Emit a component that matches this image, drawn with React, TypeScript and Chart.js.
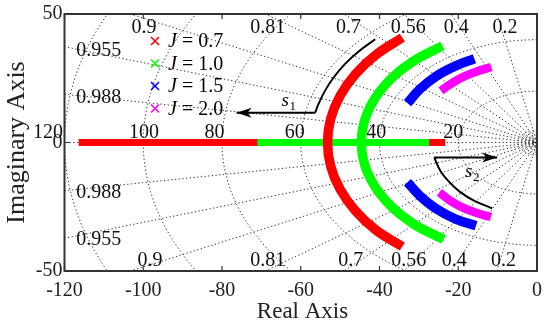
import React, { useEffect, useRef } from "react";
import { Chart, registerables } from "chart.js";

Chart.register(...registerables);

// ---------- axes ----------
const xTickValues = [-120, -100, -80, -60, -40, -20, 0];
const yTickValues = [-50, 0, 50];

// ---------- s-plane grid ----------
const wnValues = [20, 40, 60, 80, 100, 120];
const wnNearOrigin = [1.3, 2.0, 2.8, 3.8, 4.8];
const zetaValues = [0.2, 0.4, 0.56, 0.7, 0.81, 0.9, 0.955, 0.988, 1];

const zetaTopText = ["0.9", "0.81", "0.7", "0.56", "0.4", "0.2"];
const zetaTopX = [-99.8, -68.4, -47.9, -32.7, -20.5, -8.1];
const zetaTopY = 44.6;
const zetaBottomX = [-98.3, -68.4, -47.3, -32.6, -21.0, -8.5];
const zetaBottomY = -46.1;
const zetaLeftText = ["0.955", "0.988", "0.988", "0.955"];
const zetaLeftX = -111.3;
const zetaLeftY = [35.7, 17.4, -19.4, -38.0];
const wnText = ["120", "100", "80", "60", "40", "20"];
const wnTextX = [-124.2, -99.8, -81.9, -61.5, -40.8, -21.3];
const wnTextY = 3.9;

// ---------- root locus branches ----------
const jLabels = ["0.7", "1.0", "1.5", "2.0"];
const jColors = ["#ff0000", "#00ff00", "#0000ff", "#ff00ff"];

const redReal = [[-116.4, 0], [-23.3, 0]];
const greenReal = [[-71.0, 0], [-27.4, 0]];
const redArc = [
  [-34.2, 40.8], [-40.8, 34.2], [-46.1, 26.6], [-50.0, 18.2], [-52.4, 9.2], [-53.2, 0],
  [-52.4, -9.2], [-50.0, -18.2], [-46.1, -26.6], [-40.8, -34.2], [-34.2, -40.5],
];
const greenArc = [
  [-24.0, 37.6], [-31.5, 31.5], [-38.6, 22.3], [-43.1, 11.5], [-44.6, 0],
  [-43.1, -11.5], [-38.6, -22.3], [-31.5, -31.5], [-23.7, -37.7],
];
const blueArcUp = [[-32.9, 15.3], [-29.7, 20.8], [-25.7, 25.7], [-20.8, 29.7], [-15.9, 32.6]];
const blueArcDown = [[-32.9, -15.5], [-29.7, -20.8], [-25.7, -25.7], [-20.8, -29.7], [-15.5, -32.4]];
const magentaArcUp = [[-24.4, 20.1], [-21.6, 23.1], [-18.6, 25.6], [-15.3, 27.6], [-11.6, 29.4]];
const magentaArcDown = [[-24.8, -19.4], [-21.8, -22.9], [-18.7, -25.4], [-15.3, -27.4], [-11.7, -29.0]];

// ---------- annotations ----------
const s1Arc = [
  [-41.1, 40.2], [-45.3, 35.4], [-48.8, 30.5], [-51.7, 25.2], [-54.0, 19.7],
  [-55.8, 13.9], [-56.3, 11.6],
];
const s1Arrow = [[-56.3, 11.6], [-76.3, 11.6]];
const s2Arc = [
  [-11.4, -25.6], [-15.9, -22.7], [-19.4, -19.4], [-22.2, -15.5], [-24.4, -11.4],
  [-26.1, -5.8],
];
const s2Arrow = [[-26.1, -5.8], [-10.1, -5.8]];
const s1LabelPos = [-63.1, 16.3];
const s2LabelPos = [-16.5, -11.6];

const SERIF = '"Liberation Serif", "DejaVu Serif", serif';

const pts = (arr: number[][]) => arr.map(([x, y]) => ({ x, y }));

const line = (data: number[][], color: string, width: number, tag: string, tension = 0) => ({
  label: tag,
  data: pts(data),
  borderColor: color,
  backgroundColor: color,
  borderWidth: width,
  showLine: true,
  pointRadius: 0,
  pointHoverRadius: 0,
  tension,
  fill: false,
  borderCapStyle: "butt",
  borderJoinStyle: "round",
});

const drawArrowHead = (ctx: CanvasRenderingContext2D, x0: number, y0: number, x1: number, y1: number) => {
  const ang = Math.atan2(y1 - y0, x1 - x0);
  const L = 15, W = 5, N = 4;
  ctx.save();
  ctx.translate(x1, y1);
  ctx.rotate(ang);
  ctx.beginPath();
  ctx.moveTo(0, 0);
  ctx.lineTo(-L, -W);
  ctx.lineTo(-L + N, 0);
  ctx.lineTo(-L, W);
  ctx.closePath();
  ctx.fillStyle = "#000";
  ctx.fill();
  ctx.restore();
};

const rlPlugin = {
  id: "rlocusDecor",
  beforeDatasetsDraw(chart: any) {
    const { ctx, chartArea: a, scales } = chart;
    const xs = scales.x, ys = scales.y;
    const px = (v: number) => xs.getPixelForValue(v);
    const py = (v: number) => ys.getPixelForValue(v);
    ctx.save();
    ctx.beginPath();
    ctx.rect(a.left, a.top, a.right - a.left, a.bottom - a.top);
    ctx.clip();
    ctx.strokeStyle = "#333";
    ctx.lineWidth = 1;
    ctx.setLineDash([1.3, 2.4]);
    for (const wn of [...wnValues, ...wnNearOrigin]) {
      ctx.beginPath();
      for (let i = 0; i <= 180; i++) {
        const th = Math.PI / 2 + (Math.PI * i) / 180;
        const X = px(wn * Math.cos(th));
        const Y = py(wn * Math.sin(th));
        if (i === 0) ctx.moveTo(X, Y);
        else ctx.lineTo(X, Y);
      }
      ctx.stroke();
    }
    const R = 500;
    for (const z of zetaValues) {
      const s = Math.sqrt(Math.max(0, 1 - z * z));
      const signs = s === 0 ? [1] : [1, -1];
      for (const sg of signs) {
        ctx.beginPath();
        ctx.moveTo(px(0), py(0));
        ctx.lineTo(px(-R * z), py(sg * R * s));
        ctx.stroke();
      }
    }
    ctx.restore();

    // grid labels
    ctx.save();
    ctx.fillStyle = "#111";
    ctx.font = `20px ${SERIF}`;
    ctx.textAlign = "center";
    ctx.textBaseline = "middle";
    zetaTopText.forEach((t, i) => {
      ctx.fillText(t, px(zetaTopX[i]), py(zetaTopY));
      ctx.fillText(t, px(zetaBottomX[i]), py(zetaBottomY));
    });
    zetaLeftText.forEach((t, i) => ctx.fillText(t, px(zetaLeftX), py(zetaLeftY[i])));
    wnText.forEach((t, i) => ctx.fillText(t, px(wnTextX[i]), py(wnTextY)));
    ctx.restore();
  },
  afterDatasetsDraw(chart: any) {
    const { ctx, chartArea: a, scales } = chart;
    const xs = scales.x, ys = scales.y;
    const px = (v: number) => xs.getPixelForValue(v);
    const py = (v: number) => ys.getPixelForValue(v);

    // arrow heads
    for (const p of [s1Arrow, s2Arrow]) {
      const n = p.length;
      drawArrowHead(ctx, px(p[n - 2][0]), py(p[n - 2][1]), px(p[n - 1][0]), py(p[n - 1][1]));
    }

    // s labels
    ctx.save();
    ctx.fillStyle = "#000";
    ctx.textBaseline = "alphabetic";
    const sLab = (pos: number[], sub: string) => {
      const X = px(pos[0]) - 7, Y = py(pos[1]) + 5;
      ctx.font = `italic 19px ${SERIF}`;
      ctx.textAlign = "left";
      ctx.fillText("s", X, Y);
      const w = ctx.measureText("s").width;
      ctx.font = `13px ${SERIF}`;
      ctx.fillText(sub, X + w + 0.5, Y + 4);
    };
    sLab(s1LabelPos, "1");
    sLab(s2LabelPos, "2");
    ctx.restore();

    // legend
    ctx.save();
    const mx = a.left + 90.5;
    jLabels.forEach((lab, i) => {
      const my = a.top + 27 + i * 22.5;
      ctx.strokeStyle = jColors[i];
      ctx.lineWidth = 1.6;
      ctx.beginPath();
      ctx.moveTo(mx - 4, my - 4); ctx.lineTo(mx + 4, my + 4);
      ctx.moveTo(mx + 4, my - 4); ctx.lineTo(mx - 4, my + 4);
      ctx.stroke();
      ctx.fillStyle = "#000";
      ctx.textBaseline = "middle";
      ctx.textAlign = "left";
      ctx.font = `italic 20px ${SERIF}`;
      const tx = mx + 13;
      ctx.fillText("J", tx, my + 1);
      const wj = ctx.measureText("J").width;
      ctx.font = `20px ${SERIF}`;
      ctx.fillText(" = " + lab, tx + wj, my + 1);
    });
    ctx.restore();
  },
  afterDraw(chart: any) {
    const { ctx, chartArea: a, scales } = chart;
    const xs = scales.x, ys = scales.y;
    ctx.save();
    ctx.strokeStyle = "#333";
    ctx.lineWidth = 2;
    ctx.strokeRect(a.left, a.top, a.right - a.left, a.bottom - a.top);
    ctx.lineWidth = 1.2;
    ctx.beginPath();
    for (const v of xTickValues) {
      const X = xs.getPixelForValue(v);
      ctx.moveTo(X, a.top); ctx.lineTo(X, a.top + 5);
      ctx.moveTo(X, a.bottom); ctx.lineTo(X, a.bottom - 5);
    }
    for (const v of yTickValues) {
      const Y = ys.getPixelForValue(v);
      ctx.moveTo(a.left, Y); ctx.lineTo(a.left + 5, Y);
      ctx.moveTo(a.right, Y); ctx.lineTo(a.right - 5, Y);
    }
    ctx.stroke();

    // axis titles
    ctx.fillStyle = "#222";
    ctx.textAlign = "center";
    ctx.textBaseline = "middle";
    ctx.font = `23px ${SERIF}`;
    ctx.fillText("Real Axis", 302.5, 312);
    ctx.translate(17, 142.5);
    ctx.rotate(-Math.PI / 2);
    ctx.font = `26px ${SERIF}`;
    ctx.fillText("Imaginary Axis", 0, 0);
    ctx.restore();
  },
};

export default function App() {
  const ref = useRef<HTMLCanvasElement | null>(null);
  useEffect(() => {
    document.body.style.margin = "0";
    if (!ref.current) return;
    // listed bottom-most first; Chart.js draws lower `order` on top
    const stack: any[] = [
      line(redReal, jColors[0], 7, "J = " + jLabels[0]),
      line(greenReal, jColors[1], 7, "J = " + jLabels[1]),
      line(redArc, jColors[0], 9.5, "J = " + jLabels[0], 0.4),
      line(greenArc, jColors[1], 9.5, "J = " + jLabels[1], 0.4),
      line(blueArcUp, jColors[2], 9.5, "J = " + jLabels[2], 0.4),
      line(blueArcDown, jColors[2], 9.5, "J = " + jLabels[2], 0.4),
      line(magentaArcUp, jColors[3], 8.5, "J = " + jLabels[3], 0.4),
      line(magentaArcDown, jColors[3], 8.5, "J = " + jLabels[3], 0.4),
      line(s1Arc, "#000", 2, "s1", 0.4),
      line(s1Arrow, "#000", 2, "s1"),
      line(s2Arc, "#000", 2, "s2", 0.4),
      line(s2Arrow, "#000", 2, "s2"),
    ];
    const datasets = stack.map((d, i) => ({ ...d, order: stack.length - i }));
    const chart = new Chart(ref.current, {
      type: "scatter",
      data: { datasets },
      options: {
        animation: false,
        responsive: false,
        maintainAspectRatio: false,
        layout: { padding: { top: 13, right: 12, left: 0, bottom: 0 } },
        plugins: { legend: { display: false }, tooltip: { enabled: false } },
        scales: {
          x: {
            type: "linear",
            min: -120,
            max: 0,
            afterBuildTicks: (s: any) => { s.ticks = xTickValues.map((v) => ({ value: v })); },
            afterFit: (s: any) => { s.height = 56; },
            grid: { display: false, drawTicks: false },
            border: { display: false },
            ticks: { color: "#222", font: { family: SERIF, size: 20 }, padding: 8, maxRotation: 0 },
          },
          y: {
            type: "linear",
            min: -50,
            max: 50,
            afterBuildTicks: (s: any) => { s.ticks = yTickValues.map((v) => ({ value: v })); },
            afterFit: (s: any) => { s.width = 64.5; },
            grid: { display: false, drawTicks: false },
            border: { display: false },
            ticks: { color: "#222", font: { family: SERIF, size: 20 }, padding: 2 },
          },
        },
      },
      plugins: [rlPlugin],
    } as any);
    return () => chart.destroy();
  }, []);
  return (
    <div style={{ width: 550, height: 327, background: "#fff" }}>
      <canvas ref={ref} width={550} height={327} style={{ display: "block" }} />
    </div>
  );
}
